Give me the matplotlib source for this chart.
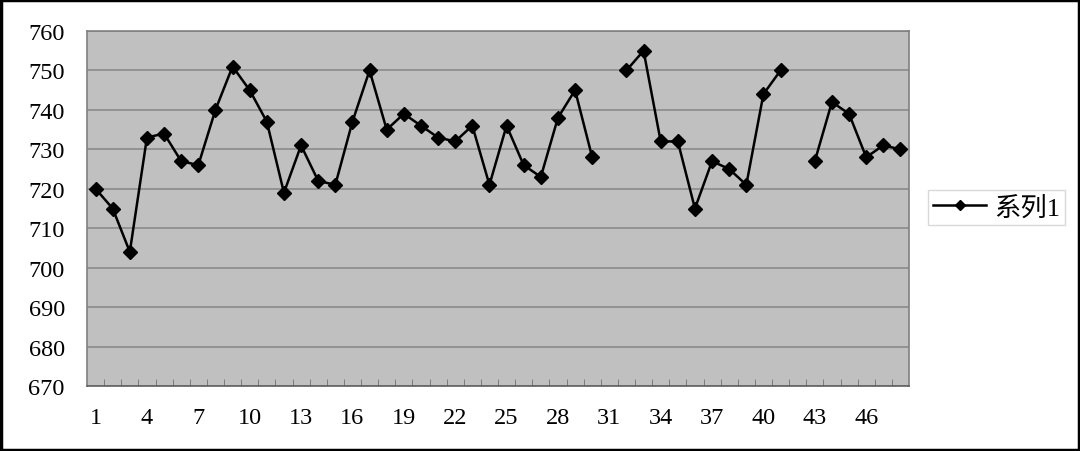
import numpy as np
import matplotlib
matplotlib.use("Agg")
import matplotlib.pyplot as plt
from matplotlib.patches import Rectangle

plt.rcParams['font.family'] = ['Liberation Serif', 'Noto Sans CJK SC']

# data (31 and 42 are missing)
categories = list(range(1, 49))
values = [720, 715, 704, 733, 734, 727, 726, 740, 751, 745,
          737, 719, 731, 722, 721, 737, 750, 735, 739, 736,
          733, 732, 736, 721, 736, 726, 723, 738, 745, 728,
          np.nan, 750, 755, 732, 732, 715, 727, 725, 721, 744,
          750, np.nan, 727, 742, 739, 728, 731, 730]
series_name = '系列1'
y_ticks = list(range(670, 761, 10))
x_tick_labels = list(range(1, 49, 3))

fig = plt.figure(figsize=(10.8, 4.52), dpi=100)
ax = fig.add_axes([87/1080, 1-387/452, (909-87)/1080, (387-32)/452])
ax.set_facecolor('#c0c0c0')

ax.plot(categories, values, color='black', lw=1.8, marker='D', markersize=7,
        label=series_name)

ax.set_xlim(0.5, 48.5)
ax.set_ylim(670, 760)
ax.set_yticks(y_ticks)
ax.yaxis.grid(True, color='#8a8a8a', lw=1.2)
ax.set_axisbelow(True)
ax.tick_params(axis='y', length=0, pad=16, labelsize=17.5)

ax.set_xticks(x_tick_labels)
ax.set_xticks(np.arange(1.5, 48, 1), minor=True)
ax.tick_params(axis='x', which='major', length=0, pad=15, labelsize=17.5)
ax.tick_params(axis='x', which='minor', direction='in', length=5, color='#707070')

for s in ax.spines.values():
    s.set_color('#808080')
    s.set_linewidth(1.2)
ax.spines['bottom'].set_color('#606060')

leg = fig.legend(loc='upper left', bbox_to_anchor=(928/1080, 1-191/452),
                 frameon=True, fancybox=False, fontsize=19, handlelength=2.0,
                 borderpad=0.2, handletextpad=0.3, borderaxespad=0,
                 markerscale=0.8)
leg.get_frame().set_edgecolor('#d0d0d0')
leg.get_frame().set_linewidth(1)

fig.patches.append(Rectangle((0.001, 0.002), 0.998, 0.996, transform=fig.transFigure,
                             fill=False, edgecolor='black', lw=2.5))

fig.savefig('out.png', dpi=100)
